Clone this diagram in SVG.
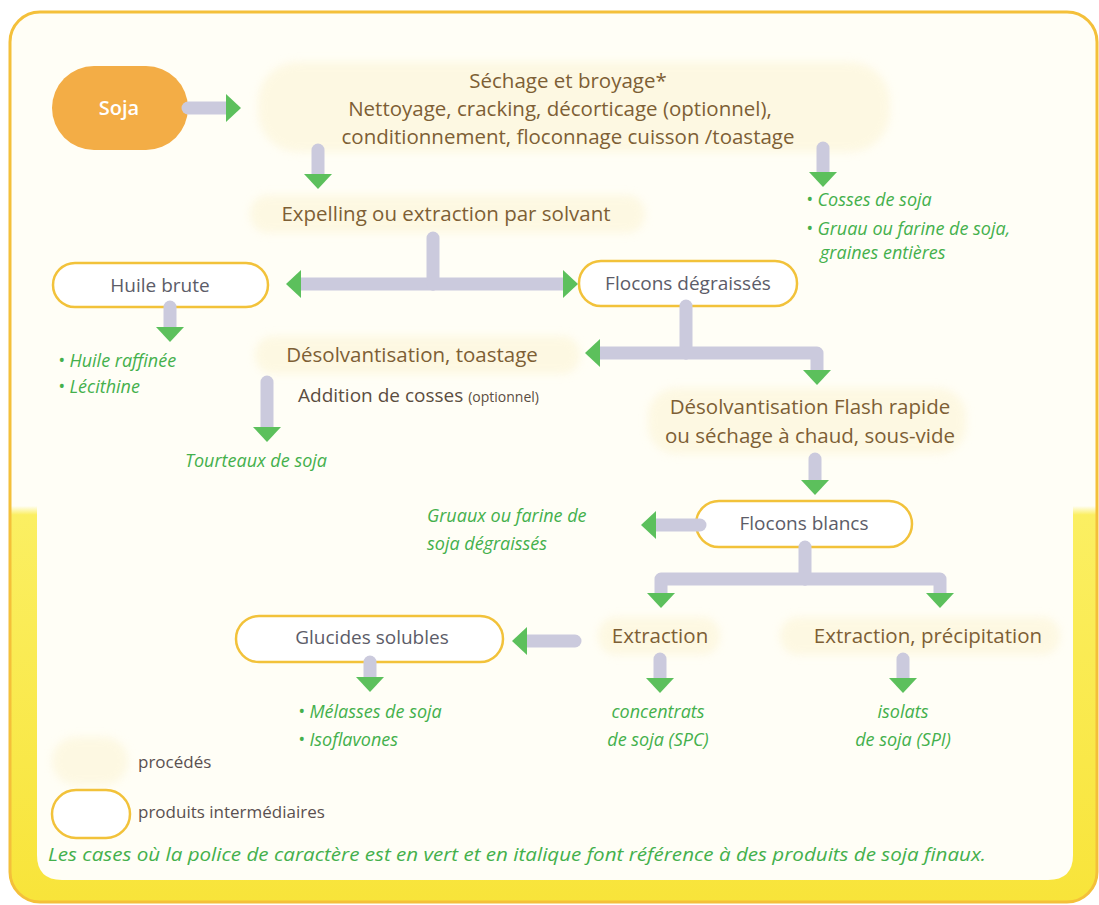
<svg xmlns="http://www.w3.org/2000/svg" width="1099" height="905" viewBox="0 0 1099 905">
<defs>
<linearGradient id="bg" x1="0" y1="0" x2="0" y2="1">
<stop offset="0" stop-color="#fffef6"/>
<stop offset="0.555" stop-color="#fffef6"/>
<stop offset="0.565" stop-color="#fbef62"/>
<stop offset="1" stop-color="#f8e43a"/>
</linearGradient>
<marker id="ah" markerUnits="userSpaceOnUse" markerWidth="16" markerHeight="30" refX="0" refY="14" orient="auto">
<path d="M0,0 L15,14 L0,28 z" fill="#5cc05c"/>
</marker>
<filter id="soft" x="-10%" y="-30%" width="120%" height="160%"><feGaussianBlur stdDeviation="4"/></filter>
</defs>
<style>
.proc{fill:#fcf3cf;opacity:0.5;filter:url(#soft)}
.pill{fill:#ffffff;stroke:#f2c23a;stroke-width:2.5}
.pt{font-family:"Open Sans","Liberation Sans",sans-serif;font-size:20.5px;font-weight:500;fill:#7d5f35;text-anchor:middle}
.it{font-family:"Open Sans","Liberation Sans",sans-serif;font-size:19px;fill:#5c5c68;text-anchor:middle}
.gr{font-family:"Open Sans","Liberation Sans",sans-serif;font-size:18px;fill:#44b04c;font-style:italic}
.lg{font-family:"Open Sans","Liberation Sans",sans-serif;font-size:17px;fill:#5a5050}
.c{fill:none;stroke:#cbcadd;stroke-width:13;stroke-linecap:round;stroke-linejoin:round}
</style>
<rect x="10" y="12" width="1087" height="890" rx="30" fill="url(#bg)" stroke="#f4c03a" stroke-width="3"/>
<path d="M37,300 H1073 V855 Q1073,880 1048,880 H62 Q37,880 37,855 Z" fill="#fffef6"/>

<g id="soja">
<rect x="52" y="66" width="136" height="84" rx="42" fill="#f3ad46"/>
<text x="119" y="115" font-family="'Open Sans','Liberation Sans',sans-serif" font-size="20" font-weight="600" fill="#ffffff" text-anchor="middle">Soja</text>
</g>
<g id="sechage">
<rect class="proc" x="258" y="62" width="632" height="90" rx="40"/>
<text class="pt" x="568" y="88">Séchage et broyage*</text>
<text class="pt" x="560" y="116">Nettoyage, cracking, décorticage (optionnel),</text>
<text class="pt" x="568" y="144">conditionnement, floconnage cuisson /toastage</text>
</g>
<g id="cosses">
<text class="gr" x="806" y="206">• Cosses de soja</text>
<text class="gr" x="806" y="235">• Gruau ou farine de soja,</text>
<text class="gr" x="820" y="259">graines entières</text>
</g>
<g id="expelling">
<rect class="proc" x="250" y="195" width="395" height="38" rx="18"/>
<text class="pt" x="446" y="221">Expelling ou extraction par solvant</text>
</g>
<g id="huile">
<rect class="pill" x="53" y="263" width="215" height="44" rx="22"/>
<text class="it" x="160" y="292">Huile brute</text>
</g>
<g id="flocons-degraisses">
<rect class="pill" x="579" y="261" width="218" height="45" rx="22"/>
<text class="it" x="688" y="290">Flocons dégraissés</text>
</g>
<g id="huile-prod">
<text class="gr" x="58" y="367">• Huile raffinée</text>
<text class="gr" x="58" y="393">• Lécithine</text>
</g>
<g id="desolv">
<rect class="proc" x="255" y="336" width="325" height="38" rx="18"/>
<text class="pt" x="412" y="362">Désolvantisation, toastage</text>
<text x="298" y="402" font-family="'Open Sans','Liberation Sans',sans-serif" font-size="19" fill="#5b4d3f">Addition de cosses <tspan font-size="14">(optionnel)</tspan></text>
</g>
<g id="tourteaux">
<text class="gr" x="185" y="467">Tourteaux  de soja</text>
</g>
<g id="flash">
<rect class="proc" x="648" y="388" width="318" height="66" rx="28"/>
<text class="pt" x="810" y="414">Désolvantisation Flash rapide</text>
<text class="pt" x="810" y="443">ou séchage à chaud, sous-vide</text>
</g>
<g id="flocons-blancs">
<rect class="pill" x="696" y="501" width="216" height="46" rx="23"/>
<text class="it" x="804" y="530">Flocons blancs</text>
</g>
<g id="gruaux">
<text class="gr" x="427" y="522">Gruaux ou farine de</text>
<text class="gr" x="427" y="550">soja dégraissés</text>
</g>
<g id="extraction">
<rect class="proc" x="598" y="617" width="122" height="38" rx="18"/>
<text class="pt" x="660" y="643">Extraction</text>
</g>
<g id="extraction-precip">
<rect class="proc" x="780" y="617" width="280" height="38" rx="18"/>
<text class="pt" x="928" y="643">Extraction, précipitation</text>
</g>
<g id="glucides">
<rect class="pill" x="236" y="616" width="267" height="46" rx="23"/>
<text class="it" x="372" y="644">Glucides solubles</text>
</g>
<g id="melasses">
<text class="gr" x="298" y="718">• Mélasses de soja</text>
<text class="gr" x="298" y="746">• Isoflavones</text>
</g>
<g id="spc">
<text class="gr" x="658" y="718" text-anchor="middle">concentrats</text>
<text class="gr" x="658" y="746" text-anchor="middle">de soja (SPC)</text>
</g>
<g id="spi">
<text class="gr" x="903" y="718" text-anchor="middle">isolats</text>
<text class="gr" x="903" y="746" text-anchor="middle">de soja (SPI)</text>
</g>
<g id="legend">
<rect class="proc" x="52" y="737" width="76" height="48" rx="24"/>
<text class="lg" x="138" y="768">procédés</text>
<rect class="pill" x="52" y="790" width="78" height="48" rx="24" stroke-width="2"/>
<text class="lg" x="138" y="818">produits intermédiaires</text>
<text class="gr" x="48" y="861" font-size="14.5" textLength="938" lengthAdjust="spacingAndGlyphs">Les cases où la police de caractère est en vert et en italique font référence à des produits de soja finaux.</text>
</g>

<g id="connectors">
<path class="c" d="M188,108 H226" marker-end="url(#ah)"/>
<path class="c" d="M318,150 V174" marker-end="url(#ah)"/>
<path class="c" d="M823,148 V172" marker-end="url(#ah)"/>
<path class="c" d="M433,238 V284"/>
<path class="c" d="M433,284 H301" marker-end="url(#ah)"/>
<path class="c" d="M433,284 H563" marker-end="url(#ah)"/>
<path class="c" d="M170,307 V327" marker-end="url(#ah)"/>
<path class="c" d="M686,306 V353"/>
<path class="c" d="M686,353 H600" marker-end="url(#ah)"/>
<path class="c" d="M686,353 H817 V370" marker-end="url(#ah)"/>
<path class="c" d="M267,382 V427" marker-end="url(#ah)"/>
<path class="c" d="M815,459 V480" marker-end="url(#ah)"/>
<path class="c" d="M700,525 H656" marker-end="url(#ah)"/>
<path class="c" d="M805,547 V579"/>
<path class="c" d="M805,579 H661 V593" marker-end="url(#ah)"/>
<path class="c" d="M805,579 H940 V593" marker-end="url(#ah)"/>
<path class="c" d="M575,641 H527" marker-end="url(#ah)"/>
<path class="c" d="M370,662 V677" marker-end="url(#ah)"/>
<path class="c" d="M660,659 V678" marker-end="url(#ah)"/>
<path class="c" d="M903,659 V678" marker-end="url(#ah)"/>
</g>
</svg>
